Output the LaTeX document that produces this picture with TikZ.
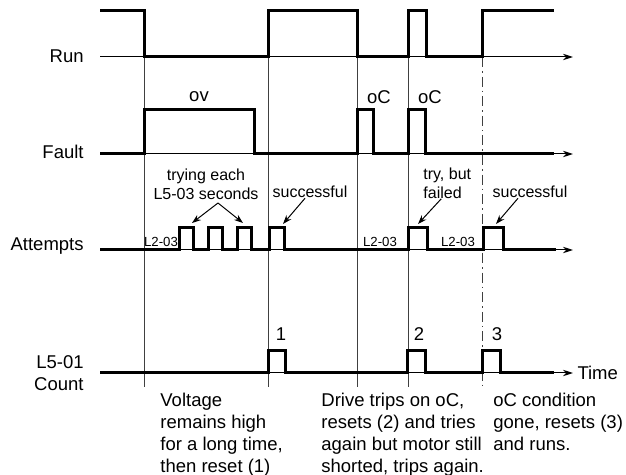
\documentclass[tikz,border=0pt]{standalone}
\usepackage{fontspec}
\setmainfont{Liberation Sans}
\usetikzlibrary{arrows.meta, positioning}

\begin{document}
\begin{tikzpicture}[
    x=0.5pt, y=-0.5pt,
    every node/.style={font=\fontsize{9.25}{11}\selectfont, inner sep=1pt},
    sig/.style={line width=1.5pt},
    axis/.style={line width=0.5pt, -{Stealth[length=5pt, width=3.2pt]}},
    guide/.style={line width=0.5pt, black!75},
    call/.style={line width=0.5pt, -{Stealth[length=4.5pt, width=3.2pt]}},
    calltext/.style={font=\fontsize{8}{9.5}\selectfont},
    signame/.style={anchor=east, align=right},
    small/.style={font=\fontsize{6.6}{8}\selectfont, inner sep=0pt},
    note/.style={anchor=north west, align=left, inner sep=0pt}
  ]
    \useasboundingbox (0,0) rectangle (626,475);

    % signal names
    \node (run) [signame] at (86,56) {Run};
    \node (fault) [signame] at (86,152) {Fault};
    \node (attempts) [signame] at (86,246) {Attempts};
    \node (count) [signame] at (86,373) {L5-01\\Count};

    % time axes
    \draw [axis] (100,57) -- (573,57);
    \draw [axis] (100,154) -- (573,154);
    \draw [axis] (100,250) -- (573,250);
    \draw [axis] (100,373) -- (573,373) node [right, inner sep=2pt] (time) {Time};

    % event guides
    \foreach \x in {144,268,357,408}
      \draw [guide] (\x,57) -- (\x,387);
    \draw [guide, dash pattern=on 5pt off 2pt on 0.8pt off 2pt] (482,57) -- (482,387);

    % Run
    \draw [sig] (100,11) -- (144,11) -- (144,57) -- (268,57) -- (268,11) -- (357,11) -- (357,57)
      -- (408,57) -- (408,11) -- (426,11) -- (426,57) -- (482,57) -- (482,11) -- (554,11);

    % Fault
    \draw [sig] (100,154) -- (144,154) -- (144,110) -- (254,110) -- (254,154) -- (357,154)
      -- (357,110) -- (373,110) -- (373,154) -- (408,154) -- (408,110) -- (425,110) -- (425,154) -- (554,154);
    \node (ov) at (199,97) {ov};
    \node (oc1) at (379,97) {oC};
    \node (oc2) at (430,97) {oC};

    % Attempts
    \draw [sig] (100,250) -- (179,250) -- (179,228) -- (193,228) -- (193,250) -- (208,250) -- (208,228)
      -- (222,228) -- (222,250) -- (237,250) -- (237,228) -- (251,228) -- (251,250) -- (269,250)
      -- (269,228) -- (284,228) -- (284,250) -- (408,250) -- (408,228) -- (427,228) -- (427,250)
      -- (483,250) -- (483,228) -- (503,228) -- (503,250) -- (556,250);
    \node (wait1) [small] at (161,242) {L2-03};
    \node (wait2) [small] at (380,242) {L2-03};
    \node (wait3) [small] at (458,242) {L2-03};

    % L5-01 count
    \draw [sig] (100,373) -- (268,373) -- (268,351) -- (285,351) -- (285,373) -- (407,373) -- (407,351)
      -- (425,351) -- (425,373) -- (482,373) -- (482,351) -- (500,351) -- (500,373) -- (554,373);
    \node (n1) at (281,334) {1};
    \node (n2) at (419,334) {2};
    \node (n3) at (497,334) {3};

    % callouts
    \node (tryeach) [calltext, align=center] at (206,184) {trying each\\L5-03 seconds};
    \node (succ1) [calltext] at (310,192) {successful};
    \node (tryfail) [calltext, anchor=west, align=left] at (421,183) {try, but\\failed};
    \node (succ2) [calltext] at (530,192) {successful};
    \coordinate (fork) at (218,203);
    \coordinate (try1) at (192,223);
    \coordinate (try3) at (243,223);
    \coordinate (ok1) at (283,224);
    \coordinate (fail) at (418,224);
    \coordinate (ok2) at (496,224);
    \draw [call] (fork) -- (try1);
    \draw [call] (fork) -- (try3);
    \draw [call] ([xshift=-2.5pt, yshift=1pt]succ1.south) -- (ok1);
    \draw [call] ([xshift=-3pt, yshift=1pt]tryfail.south) -- (fail);
    \draw [call] ([xshift=-6pt, yshift=1pt]succ2.south) -- (ok2);

    % notes below
    \node (note1) [note] at (160,393) {Voltage\\remains high\\for a long time,\\then reset (1)};
    \node (note2) [note] at (321,393) {Drive trips on oC,\\resets (2) and tries\\again but motor still\\shorted, trips again.};
    \node (note3) [note] at (493,393) {oC condition\\gone, resets (3)\\and runs.};

  \end{tikzpicture}
\end{document}
